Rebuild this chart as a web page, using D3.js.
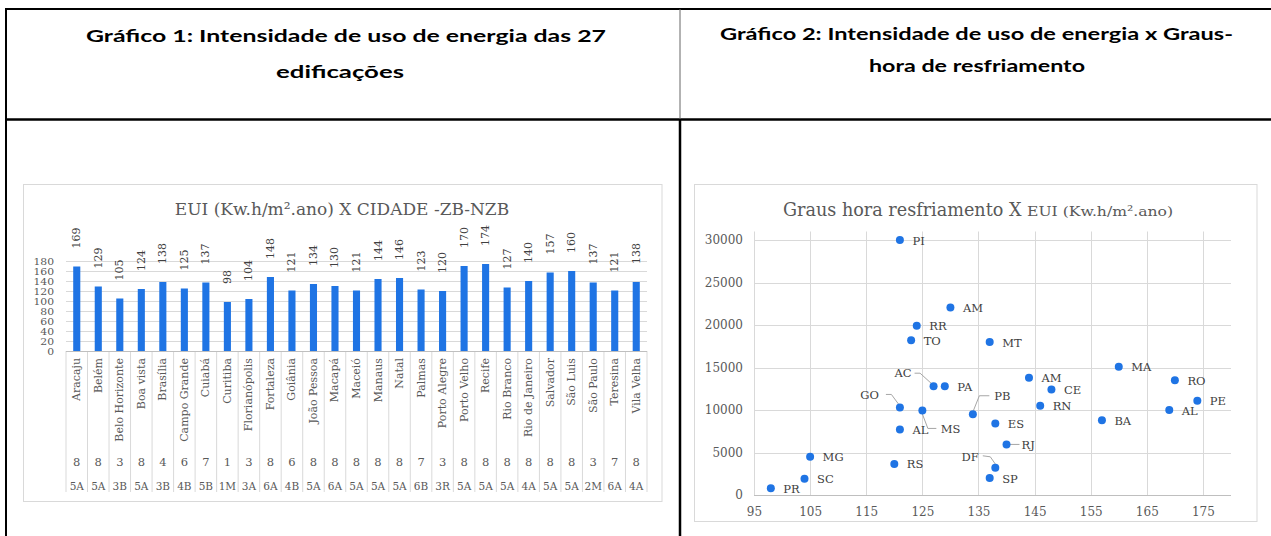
<!DOCTYPE html>
<html><head><meta charset="utf-8">
<script src="https://cdn.jsdelivr.net/npm/d3@7"></script>
<style>body{margin:0;background:#fff} svg{display:block}</style>
</head><body>
<svg id="c" width="1271" height="536"></svg>
<script>
// ---------- data: chart 1 ----------
const cities = ["Aracaju","Belém","Belo Horizonte","Boa vista","Brasília","Campo Grande","Cuiabá","Curitiba","Florianópolis","Fortaleza","Goiânia","João Pessoa","Macapá","Maceió","Manaus","Natal","Palmas","Porto Alegre","Porto Velho","Recife","Rio Branco","Rio de Janeiro","Salvador","São Luis","São Paulo","Teresina","Vila Velha"];
const euiValues = [169,129,105,124,138,125,137,98,104,148,121,134,130,121,144,146,123,120,170,174,127,140,157,160,137,121,138];
const zbNumbers = [8,8,3,8,4,6,7,1,3,8,6,8,8,8,8,8,7,3,8,8,8,8,8,8,3,7,8];
const nzbCodes = ["5A","5A","3B","5A","3B","4B","5B","1M","3A","6A","4B","5A","6A","5A","5A","5A","6B","3R","5A","5A","5A","4A","5A","5A","2M","6A","4A"];
const euiTicks = [0,20,40,60,80,100,120,140,160,180];

// ---------- data: chart 2 ----------
const states = ["PI","AM","RR","TO","AC","PA","GO","MS","AL","RS","MG","SC","PR","PB","DF","SP","MT","ES","RJ","AM","CE","RN","BA","MA","RO","AL","PE"];
const stateEUI = [121,130,124,123,127,129,121,125,121,120,105,104,98,134,138,137,137,138,140,144,148,146,157,160,170,169,174];
const coolingDegreeHours = [30000,22050,19900,18200,12800,12800,10300,9950,7700,3650,4500,1900,800,9500,3200,2000,18000,8400,5950,13800,12400,10500,8800,15100,13500,10000,11100];
const cdhTicks = [0,5000,10000,15000,20000,25000,30000];
const euiAxisTicks = [95,105,115,125,135,145,155,165,175];

// ---------- style ----------
const BLUE = "#1f74e4";
const GRID = "#d9d9d9";
const SERIF = "'DejaVu Serif', serif";
const svg = d3.select("#c");

// ---------- table ----------
const tbl = svg.append("g");
tbl.append("line").attr("x1",5).attr("x2",1271).attr("y1",9).attr("y2",9).attr("stroke","#000").attr("stroke-width",2);
tbl.append("line").attr("x1",6).attr("x2",6).attr("y1",8).attr("y2",536).attr("stroke","#000").attr("stroke-width",2);
tbl.append("line").attr("x1",5).attr("x2",1271).attr("y1",119.5).attr("y2",119.5).attr("stroke","#000").attr("stroke-width",2.5);
tbl.append("line").attr("x1",680).attr("x2",680).attr("y1",9).attr("y2",119).attr("stroke","#666").attr("stroke-width",1);
tbl.append("line").attr("x1",680).attr("x2",680).attr("y1",119).attr("y2",536).attr("stroke","#000").attr("stroke-width",2.5);

const headings = [
  {t:"Gráfico 1: Intensidade de uso de energia das 27", x:346, y:42, w:520},
  {t:"edificações", x:340, y:78, w:128},
  {t:"Gráfico 2: Intensidade de uso de energia x Graus-", x:976.5, y:40, w:513},
  {t:"hora de resfriamento", x:977, y:72, w:216}
];
tbl.selectAll("text.h").data(headings).join("text")
  .attr("x",d=>d.x).attr("y",d=>d.y).attr("text-anchor","middle")
  .attr("font-family","Lato, sans-serif").attr("font-weight","bold").attr("font-size",17.5)
  .attr("fill","#000").attr("textLength",d=>d.w).attr("lengthAdjust","spacingAndGlyphs")
  .text(d=>d.t);

// ---------- chart 1 ----------
const c1 = svg.append("g");
c1.append("rect").attr("x",23.5).attr("y",184.5).attr("width",638.5).attr("height",317).attr("fill","#fff").attr("stroke",GRID);
c1.append("text").attr("x",342).attr("y",215).attr("text-anchor","middle")
  .attr("font-family",SERIF).attr("font-size",17).attr("fill","#595959")
  .text("EUI (Kw.h/m².ano) X CIDADE -ZB-NZB");

const x1 = d3.scaleBand().domain(cities).range([66,647]).paddingInner(0.67).paddingOuter(0.335);
const y1 = d3.scaleLinear().domain([0,180]).range([351,261]);
const step = x1.step();

c1.append("g").selectAll("line").data(euiTicks.filter(t=>t>0)).join("line")
  .attr("x1",66).attr("x2",647).attr("y1",d=>y1(d)+0.5).attr("y2",d=>y1(d)+0.5)
  .attr("stroke",GRID).attr("stroke-width",1);

const ax1 = c1.append("g").attr("transform","translate(54,0)")
  .call(d3.axisLeft(y1).tickValues(euiTicks).tickSize(0).tickPadding(0));
ax1.select(".domain").remove();
ax1.selectAll("text").attr("font-family",SERIF).attr("font-size",10).attr("fill","#595959")
  .attr("dy","0.36em").attr("transform","scale(1.08,0.84)");

// category separators
c1.append("g").selectAll("line").data(d3.range(cities.length+1)).join("line")
  .attr("x1",i=>x1.range()[0]+i*step).attr("x2",i=>x1.range()[0]+i*step)
  .attr("y1",351).attr("y2",492).attr("stroke",GRID).attr("stroke-width",1);

c1.append("line").attr("x1",66).attr("x2",647).attr("y1",351.5).attr("y2",351.5).attr("stroke","#bfbfbf");

c1.append("g").selectAll("rect").data(cities).join("rect")
  .attr("x",c=>x1(c)).attr("width",x1.bandwidth())
  .attr("y",(c,i)=>y1(euiValues[i])).attr("height",(c,i)=>y1(0)-y1(euiValues[i]))
  .attr("fill",BLUE);

c1.append("g").selectAll("text").data(cities).join("text")
  .attr("transform",(c,i)=>`translate(${x1(c)+x1.bandwidth()/2},${y1(euiValues[i])-18}) rotate(-90)`)
  .attr("dominant-baseline","central").attr("text-anchor","start")
  .attr("font-family",SERIF).attr("font-size",11).attr("fill","#404040")
  .text((c,i)=>euiValues[i]);

c1.append("g").selectAll("text").data(cities).join("text")
  .attr("transform",c=>`translate(${x1(c)+x1.bandwidth()/2},358) rotate(-90)`)
  .attr("dominant-baseline","central").attr("text-anchor","end")
  .attr("font-family",SERIF).attr("font-size",11).attr("fill","#595959")
  .text(c=>c);

c1.append("g").selectAll("text").data(cities).join("text")
  .attr("x",c=>x1(c)+x1.bandwidth()/2).attr("y",462)
  .attr("dominant-baseline","central").attr("text-anchor","middle")
  .attr("font-family",SERIF).attr("font-size",11.5).attr("fill","#595959")
  .text((c,i)=>zbNumbers[i]);

c1.append("g").selectAll("text").data(cities).join("text")
  .attr("x",c=>x1(c)+x1.bandwidth()/2).attr("y",486)
  .attr("dominant-baseline","central").attr("text-anchor","middle")
  .attr("font-family",SERIF).attr("font-size",10.5).attr("fill","#595959")
  .text((c,i)=>nzbCodes[i]);

// ---------- chart 2 ----------
const c2 = svg.append("g");
c2.append("rect").attr("x",694.5).attr("y",184.5).attr("width",562.5).attr("height",337).attr("fill","#fff").attr("stroke",GRID);
const t2 = c2.append("text").attr("x",783).attr("y",216)
  .attr("font-family",SERIF).attr("fill","#595959");
t2.append("tspan").attr("font-size",17.6).text("Graus hora resfriamento X ");
t2.append("tspan").attr("font-size",13.5).attr("textLength",146).attr("lengthAdjust","spacingAndGlyphs").text("EUI (Kw.h/m².ano)");

const x2 = d3.scaleLinear().domain([95,180]).range([754,1231]);
const y2 = d3.scaleLinear().domain([0,31000]).range([495,231.5]);

c2.append("g").selectAll("line").data(euiAxisTicks).join("line")
  .attr("x1",d=>Math.round(x2(d))+0.5).attr("x2",d=>Math.round(x2(d))+0.5)
  .attr("y1",231.5).attr("y2",495).attr("stroke",GRID);
c2.append("g").selectAll("line").data(cdhTicks.filter(t=>t>0)).join("line")
  .attr("x1",754).attr("x2",1231).attr("y1",d=>Math.round(y2(d))+0.5).attr("y2",d=>Math.round(y2(d))+0.5)
  .attr("stroke",GRID);
c2.append("line").attr("x1",754).attr("x2",1231).attr("y1",495.5).attr("y2",495.5).attr("stroke","#bfbfbf");

const ay2 = c2.append("g").attr("transform","translate(743,0)")
  .call(d3.axisLeft(y2).tickValues(cdhTicks).tickFormat(d3.format("d")).tickSize(0).tickPadding(0));
ay2.select(".domain").remove();
ay2.selectAll("text").attr("font-family",SERIF).attr("font-size",12).attr("fill","#595959");

const ax2 = c2.append("g").attr("transform","translate(0,495)")
  .call(d3.axisBottom(x2).tickValues(euiAxisTicks).tickSize(0).tickPadding(12));
ax2.select(".domain").remove();
ax2.selectAll("text").attr("font-family",SERIF).attr("font-size",12).attr("fill","#595959");

// label layout (pixel offsets from each point) and leader lines
const labelLayout = {
  4:{dx:-22,dy:-13,anchor:"end",leader:[[-19,-13],[-13.5,-13],[-2.5,-3]]},
  6:{dx:-21,dy:-12.5,anchor:"end",leader:[[-14,-13],[-8.5,-13],[-1.5,-3.5]]},
  7:{dx:18.5,dy:19,anchor:"start",leader:[[0,3.5],[5.5,18],[14,18]]},
  13:{dx:21.5,dy:-18,anchor:"start",leader:[[0.5,-3.5],[6.5,-18.5],[16.5,-18.5]]},
  14:{dx:-16.5,dy:-11,anchor:"end",leader:[[-12.5,-12],[-5,-11],[0,-3.8]]},
  18:{dx:15,dy:1,anchor:"start",leader:[[3.5,0],[13,0]]}
};
const pts = states.map((s,i)=>({s,i,cx:x2(stateEUI[i]),cy:y2(coolingDegreeHours[i])}));

c2.append("g").selectAll("path").data(pts.filter(p=>labelLayout[p.i])).join("path")
  .attr("d",p=>d3.line()(labelLayout[p.i].leader.map(q=>[p.cx+q[0],p.cy+q[1]])))
  .attr("fill","none").attr("stroke","#a6a6a6").attr("stroke-width",1);

c2.append("g").selectAll("circle").data(pts).join("circle")
  .attr("cx",p=>p.cx).attr("cy",p=>p.cy).attr("r",4).attr("fill",BLUE);

c2.append("g").selectAll("text").data(pts).join("text")
  .attr("x",p=>p.cx+(labelLayout[p.i]?labelLayout[p.i].dx:12.5))
  .attr("y",p=>p.cy+(labelLayout[p.i]?labelLayout[p.i].dy:0.5))
  .attr("text-anchor",p=>labelLayout[p.i]?labelLayout[p.i].anchor:"start")
  .attr("dominant-baseline","central")
  .attr("font-family",SERIF).attr("font-size",11.5).attr("fill","#404040")
  .text(p=>p.s);
</script>
</body></html>
